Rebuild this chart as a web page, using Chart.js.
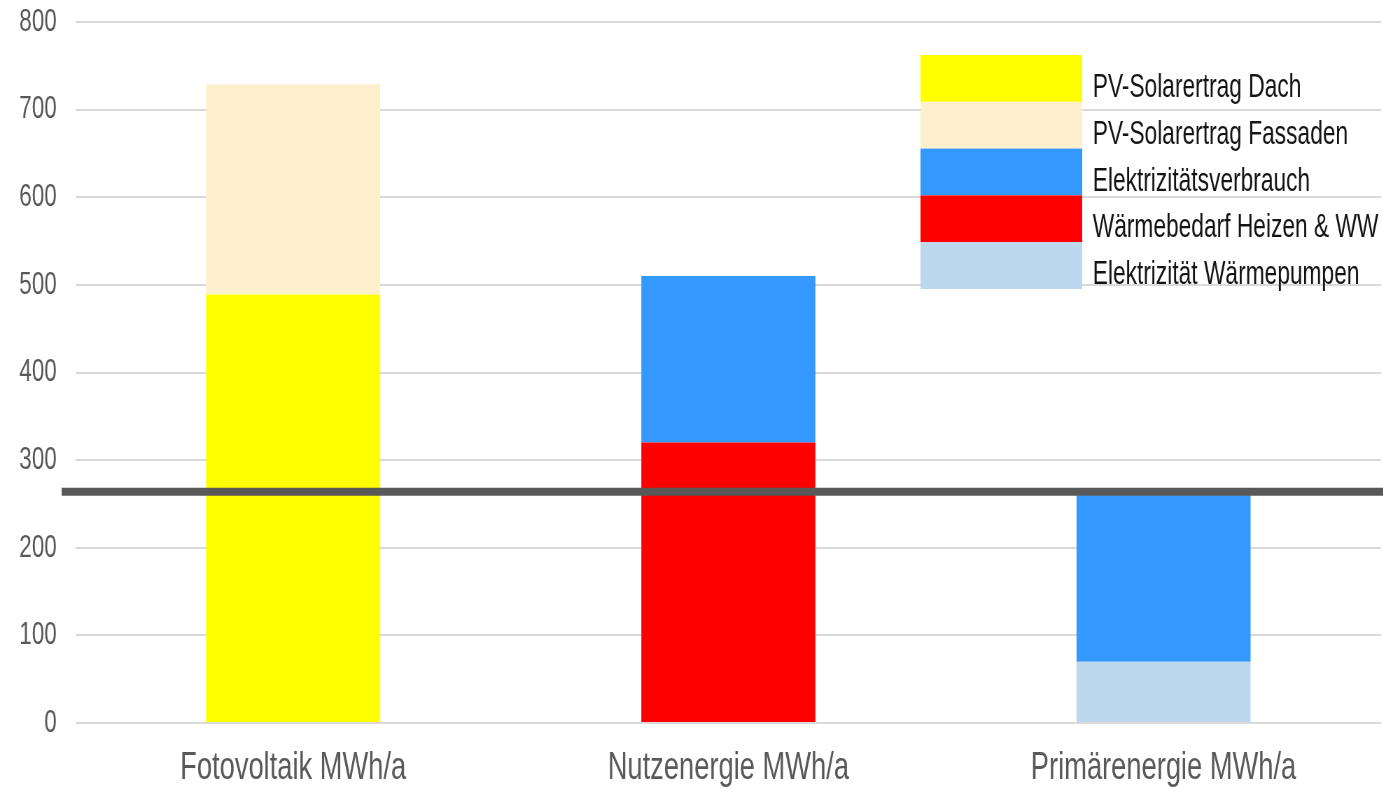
<!DOCTYPE html>
<html>
<head>
<meta charset="utf-8">
<script src="https://cdn.jsdelivr.net/npm/chart.js@4.4.0/dist/chart.umd.min.js"></script>
<style>
  html, body { margin: 0; padding: 0; background: #fff; overflow: hidden; }
  /* chart is drawn wide and squeezed horizontally, like the narrow Excel look */
  #wrap { width: 1976px; height: 789px; transform: scaleX(0.7); transform-origin: 0 0; }
</style>
</head>
<body>
<div id="wrap"><canvas id="energy-chart" width="1976" height="789"></canvas></div>
<script>
categories = ["Fotovoltaik MWh/a", "Nutzenergie MWh/a", "Primärenergie MWh/a"]

pvDach = [489, null, null]
pvFassaden = [240, null, null]
waermebedarf = [null, 320, null]
elektWaermepumpen = [null, null, 70]
elektVerbrauch = [null, 190, 190]

yTicks = [0, 100, 200, 300, 400, 500, 600, 700, 800]
limitValue = 264

// stacking order (bottom first)
var datasets = [
    {label: "PV-Solarertrag Dach", data: pvDach, backgroundColor: "#ffff00"},
    {label: "PV-Solarertrag Fassaden", data: pvFassaden, backgroundColor: "#fff0cd"},
    {label: "Wärmebedarf Heizen & WW", data: waermebedarf, backgroundColor: "#ff0000"},
    {label: "Elektrizität Wärmepumpen", data: elektWaermepumpen, backgroundColor: "#bdd7ee"},
    {label: "Elektrizitätsverbrauch", data: elektVerbrauch, backgroundColor: "#3399ff"}
]
legendOrder = ["PV-Solarertrag Dach", "PV-Solarertrag Fassaden", "Elektrizitätsverbrauch",
               "Wärmebedarf Heizen & WW", "Elektrizität Wärmepumpen"]

var limitLine = {
    id: 'limitLine',
    afterDatasetsDraw: function(chart) {
        var ctx = chart.ctx
        var y = chart.scales.y.getPixelForValue(limitValue)
        ctx.save()
        ctx.strokeStyle = "#595959"
        ctx.lineWidth = 8
        ctx.beginPath()
        ctx.moveTo(88, y)
        ctx.lineTo(chart.width, y)
        ctx.stroke()
        ctx.restore()
    }
}

// big block legend sitting inside the plot, top right
var blockLegend = {
    id: 'blockLegend',
    afterDraw: function(chart) {
        var ctx = chart.ctx
        var left = 1315, top = 55, boxW = 231, rowH = 46.8
        ctx.save()
        ctx.font = "32.5px 'Liberation Sans', Arial, sans-serif"
        ctx.textBaseline = "alphabetic"
        legendOrder.forEach(function(name, i) {
            var ds = chart.data.datasets.find(function(d) { return d.label == name })
            ctx.fillStyle = ds.backgroundColor
            ctx.fillRect(left, top + i * rowH, boxW, rowH)
            ctx.fillStyle = "#141414"
            ctx.fillText(name, 1561, top + i * rowH + 42)
        })
        ctx.restore()
    }
}

let chart = new Chart(document.getElementById("energy-chart"), {
    type: 'bar',
    data: {
        labels: categories,
        datasets: datasets
    },
    options: {
        responsive: false,
        animation: false,
        layout: {padding: {left: 28, top: 22, right: 3, bottom: 0}},
        datasets: {bar: {categoryPercentage: 0.4, barPercentage: 1.0}},
        plugins: {
            legend: {display: false},
            tooltip: {enabled: false}
        },
        scales: {
            x: {
                stacked: true,
                grid: {display: false},
                border: {display: false},
                ticks: {
                    color: "#595959",
                    padding: 14,
                    font: {family: "'Liberation Sans', Arial, sans-serif", size: 39}
                },
                afterFit: function(axis) {
                    axis.height = 66
                    axis.paddingLeft = 0
                    axis.paddingRight = 0
                }
            },
            y: {
                stacked: true,
                min: 0,
                max: 800,
                afterBuildTicks: function(axis) {
                    axis.ticks = yTicks.map(function(v) { return {value: v} })
                },
                grid: {color: "#d9d9d9", lineWidth: 2, drawTicks: false},
                border: {display: false},
                ticks: {
                    color: "#595959",
                    padding: 27,
                    font: {family: "'Liberation Sans', Arial, sans-serif", size: 32}
                },
                afterFit: function(axis) {
                    axis.width = 80
                    axis.paddingTop = 0
                    axis.paddingBottom = 0
                }
            }
        }
    },
    plugins: [limitLine, blockLegend]
});
</script>
</body>
</html>
